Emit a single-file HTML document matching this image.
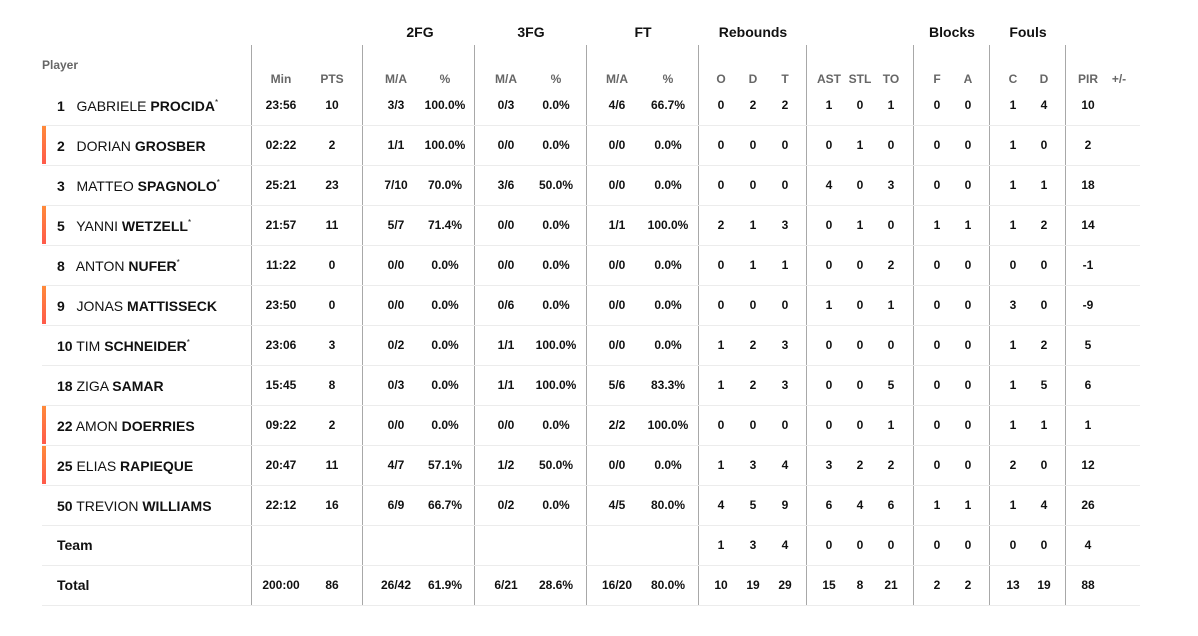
<!DOCTYPE html><html><head><meta charset="utf-8"><style>
body{margin:0;width:1198px;height:636px;background:#fff;font-family:"Liberation Sans",sans-serif;position:relative;overflow:hidden;color:#111}
.v{position:absolute;top:45px;height:560px;width:1px;background:#a8a8a8}
.g{position:absolute;top:24px;font-size:14px;font-weight:bold;width:120px;margin-left:-60px;text-align:center}
.h{position:absolute;top:72px;font-size:12px;font-weight:bold;color:#666;width:60px;margin-left:-30px;text-align:center}
.r{position:absolute;left:42px;width:1098px;height:40px;border-bottom:1px solid #ececec}
.r span{position:absolute;top:0;line-height:40px;font-size:12px;font-weight:bold;width:60px;margin-left:-72px;text-align:center}
.r .n{position:absolute;left:15px;margin-left:0;width:auto;text-align:left;font-size:14px;font-weight:normal;top:1px}
.r .n b{font-weight:bold}.r .n i{font-style:normal;font-weight:bold}
.bar{position:absolute;left:0;top:1px;width:4px;height:38px;background:linear-gradient(#ff8a3a,#ff5a4a)}
.r span:nth-of-type(2){left:281px}.r span:nth-of-type(3){left:332px}.r span:nth-of-type(4){left:396px}.r span:nth-of-type(5){left:445px}
.r span:nth-of-type(6){left:506px}.r span:nth-of-type(7){left:556px}.r span:nth-of-type(8){left:617px}.r span:nth-of-type(9){left:668px}
.r span:nth-of-type(10){left:721px}.r span:nth-of-type(11){left:753px}.r span:nth-of-type(12){left:785px}.r span:nth-of-type(13){left:829px}
.r span:nth-of-type(14){left:860px}.r span:nth-of-type(15){left:891px}.r span:nth-of-type(16){left:937px}.r span:nth-of-type(17){left:968px}
.r span:nth-of-type(18){left:1013px}.r span:nth-of-type(19){left:1044px}.r span:nth-of-type(20){left:1088px}
sup{font-size:8px;vertical-align:baseline;position:relative;top:-6px;line-height:0}
</style></head><body>
<div class="v" style="left:251px"></div><div class="v" style="left:362px"></div><div class="v" style="left:474px"></div><div class="v" style="left:586px"></div><div class="v" style="left:698px"></div><div class="v" style="left:806px"></div><div class="v" style="left:913px"></div><div class="v" style="left:989px"></div><div class="v" style="left:1065px"></div>
<div class="g" style="left:420px">2FG</div><div class="g" style="left:531px">3FG</div><div class="g" style="left:643px">FT</div><div class="g" style="left:753px">Rebounds</div><div class="g" style="left:952px">Blocks</div><div class="g" style="left:1028px">Fouls</div>
<div style="position:absolute;left:42px;top:58px;font-size:12px;font-weight:bold;color:#666">Player</div>
<div class="h" style="left:281px">Min</div><div class="h" style="left:332px">PTS</div><div class="h" style="left:396px">M/A</div><div class="h" style="left:445px">%</div><div class="h" style="left:506px">M/A</div><div class="h" style="left:556px">%</div><div class="h" style="left:617px">M/A</div><div class="h" style="left:668px">%</div><div class="h" style="left:721px">O</div><div class="h" style="left:753px">D</div><div class="h" style="left:785px">T</div><div class="h" style="left:829px">AST</div><div class="h" style="left:860px">STL</div><div class="h" style="left:891px">TO</div><div class="h" style="left:937px">F</div><div class="h" style="left:968px">A</div><div class="h" style="left:1013px">C</div><div class="h" style="left:1044px">D</div><div class="h" style="left:1088px">PIR</div><div class="h" style="left:1119px">+/-</div>

<div class="r" style="top:85px"><span class="n"><i>1</i>&nbsp;&nbsp; GABRIELE <b>PROCIDA</b><sup>*</sup></span><span>23:56</span><span>10</span><span>3/3</span><span>100.0%</span><span>0/3</span><span>0.0%</span><span>4/6</span><span>66.7%</span><span>0</span><span>2</span><span>2</span><span>1</span><span>0</span><span>1</span><span>0</span><span>0</span><span>1</span><span>4</span><span>10</span></div>
<div class="r" style="top:125px"><div class="bar"></div><span class="n"><i>2</i>&nbsp;&nbsp; DORIAN <b>GROSBER</b></span><span>02:22</span><span>2</span><span>1/1</span><span>100.0%</span><span>0/0</span><span>0.0%</span><span>0/0</span><span>0.0%</span><span>0</span><span>0</span><span>0</span><span>0</span><span>1</span><span>0</span><span>0</span><span>0</span><span>1</span><span>0</span><span>2</span></div>
<div class="r" style="top:165px"><span class="n"><i>3</i>&nbsp;&nbsp; MATTEO <b>SPAGNOLO</b><sup>*</sup></span><span>25:21</span><span>23</span><span>7/10</span><span>70.0%</span><span>3/6</span><span>50.0%</span><span>0/0</span><span>0.0%</span><span>0</span><span>0</span><span>0</span><span>4</span><span>0</span><span>3</span><span>0</span><span>0</span><span>1</span><span>1</span><span>18</span></div>
<div class="r" style="top:205px"><div class="bar"></div><span class="n"><i>5</i>&nbsp;&nbsp; YANNI <b>WETZELL</b><sup>*</sup></span><span>21:57</span><span>11</span><span>5/7</span><span>71.4%</span><span>0/0</span><span>0.0%</span><span>1/1</span><span>100.0%</span><span>2</span><span>1</span><span>3</span><span>0</span><span>1</span><span>0</span><span>1</span><span>1</span><span>1</span><span>2</span><span>14</span></div>
<div class="r" style="top:245px"><span class="n"><i>8</i>&nbsp;&nbsp; ANTON <b>NUFER</b><sup>*</sup></span><span>11:22</span><span>0</span><span>0/0</span><span>0.0%</span><span>0/0</span><span>0.0%</span><span>0/0</span><span>0.0%</span><span>0</span><span>1</span><span>1</span><span>0</span><span>0</span><span>2</span><span>0</span><span>0</span><span>0</span><span>0</span><span>-1</span></div>
<div class="r" style="top:285px"><div class="bar"></div><span class="n"><i>9</i>&nbsp;&nbsp; JONAS <b>MATTISSECK</b></span><span>23:50</span><span>0</span><span>0/0</span><span>0.0%</span><span>0/6</span><span>0.0%</span><span>0/0</span><span>0.0%</span><span>0</span><span>0</span><span>0</span><span>1</span><span>0</span><span>1</span><span>0</span><span>0</span><span>3</span><span>0</span><span>-9</span></div>
<div class="r" style="top:325px"><span class="n"><i>10</i> TIM <b>SCHNEIDER</b><sup>*</sup></span><span>23:06</span><span>3</span><span>0/2</span><span>0.0%</span><span>1/1</span><span>100.0%</span><span>0/0</span><span>0.0%</span><span>1</span><span>2</span><span>3</span><span>0</span><span>0</span><span>0</span><span>0</span><span>0</span><span>1</span><span>2</span><span>5</span></div>
<div class="r" style="top:365px"><span class="n"><i>18</i> ZIGA <b>SAMAR</b></span><span>15:45</span><span>8</span><span>0/3</span><span>0.0%</span><span>1/1</span><span>100.0%</span><span>5/6</span><span>83.3%</span><span>1</span><span>2</span><span>3</span><span>0</span><span>0</span><span>5</span><span>0</span><span>0</span><span>1</span><span>5</span><span>6</span></div>
<div class="r" style="top:405px"><div class="bar"></div><span class="n"><i>22</i> AMON <b>DOERRIES</b></span><span>09:22</span><span>2</span><span>0/0</span><span>0.0%</span><span>0/0</span><span>0.0%</span><span>2/2</span><span>100.0%</span><span>0</span><span>0</span><span>0</span><span>0</span><span>0</span><span>1</span><span>0</span><span>0</span><span>1</span><span>1</span><span>1</span></div>
<div class="r" style="top:445px"><div class="bar"></div><span class="n"><i>25</i> ELIAS <b>RAPIEQUE</b></span><span>20:47</span><span>11</span><span>4/7</span><span>57.1%</span><span>1/2</span><span>50.0%</span><span>0/0</span><span>0.0%</span><span>1</span><span>3</span><span>4</span><span>3</span><span>2</span><span>2</span><span>0</span><span>0</span><span>2</span><span>0</span><span>12</span></div>
<div class="r" style="top:485px"><span class="n"><i>50</i> TREVION <b>WILLIAMS</b></span><span>22:12</span><span>16</span><span>6/9</span><span>66.7%</span><span>0/2</span><span>0.0%</span><span>4/5</span><span>80.0%</span><span>4</span><span>5</span><span>9</span><span>6</span><span>4</span><span>6</span><span>1</span><span>1</span><span>1</span><span>4</span><span>26</span></div>
<div class="r" style="top:525px"><span class="n" style="top:0px"><b>Team</b></span><span></span><span></span><span></span><span></span><span></span><span></span><span></span><span></span><span>1</span><span>3</span><span>4</span><span>0</span><span>0</span><span>0</span><span>0</span><span>0</span><span>0</span><span>0</span><span>4</span></div>
<div class="r" style="top:565px"><span class="n" style="top:0px"><b>Total</b></span><span>200:00</span><span>86</span><span>26/42</span><span>61.9%</span><span>6/21</span><span>28.6%</span><span>16/20</span><span>80.0%</span><span>10</span><span>19</span><span>29</span><span>15</span><span>8</span><span>21</span><span>2</span><span>2</span><span>13</span><span>19</span><span>88</span></div>
</body></html>
